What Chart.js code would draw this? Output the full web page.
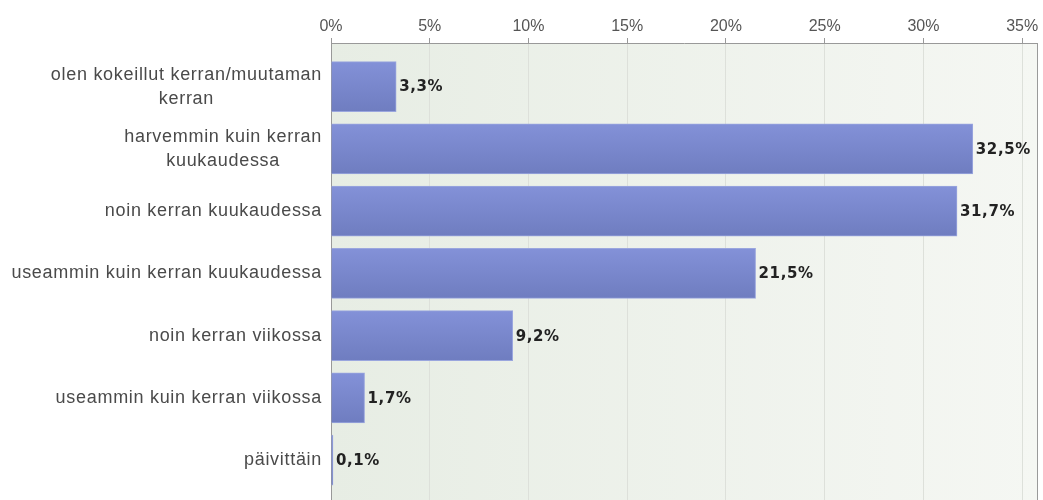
<!DOCTYPE html>
<html>
<head>
<meta charset="utf-8">
<script src="https://cdn.jsdelivr.net/npm/chart.js@4"></script>
<style>
  html, body { margin: 0; padding: 0; background: #fff; }
  #wrap { width: 1043px; height: 500px; position: relative; }
</style>
</head>
<body>
<div id="wrap"><canvas id="c"></canvas></div>
<script>
// categories (top to bottom)
var categories = [
  ['olen kokeillut kerran/muutaman', 'kerran'],
  ['harvemmin kuin kerran', 'kuukaudessa'],
  ['noin kerran kuukaudessa'],
  ['useammin kuin kerran kuukaudessa'],
  ['noin kerran viikossa'],
  ['useammin kuin kerran viikossa'],
  ['päivittäin']
];
// percentages
var values = [3.3, 32.5, 31.7, 21.5, 9.2, 1.7, 0.1];
var xTicks = [0, 5, 10, 15, 20, 25, 30, 35];

var points = values.map(function (v, i) { return { x: v, y: i }; });

// background, right border, category labels, value labels
var decor = {
  id: 'decor',
  beforeDraw: function (chart) {
    var ctx = chart.ctx, a = chart.chartArea;
    var g = ctx.createLinearGradient(a.left, 0, a.right, 0);
    g.addColorStop(0, '#e7ede4');
    g.addColorStop(1, '#f5f7f3');
    ctx.save();
    ctx.fillStyle = g;
    ctx.fillRect(a.left, a.top, a.right - a.left, a.bottom - a.top);
    ctx.restore();
  },
  afterDraw: function (chart) {
    var ctx = chart.ctx, a = chart.chartArea;
    var ys = chart.scales.y, xs = chart.scales.x;
    ctx.save();
    ctx.strokeStyle = '#9a9a9a';
    ctx.lineWidth = 1;
    ctx.beginPath();
    ctx.moveTo(Math.round(a.right) + 0.5, a.top);
    ctx.lineTo(Math.round(a.right) + 0.5, a.bottom);
    ctx.stroke();

    // category labels, block right aligned, lines centered
    ctx.font = '18px "Liberation Sans", Arial, sans-serif';
    ctx.letterSpacing = '0.7px';
    ctx.fillStyle = '#4a4a4a';
    ctx.textBaseline = 'middle';
    ctx.textAlign = 'center';
    var lh = 24;
    categories.forEach(function (lines, i) {
      var w = 0;
      lines.forEach(function (l) { w = Math.max(w, ctx.measureText(l).width); });
      var cx = 322 - w / 2;
      var cy = ys.getPixelForValue(i);
      var y0 = cy - (lines.length - 1) * lh / 2;
      lines.forEach(function (l, k) { ctx.fillText(l, cx, y0 + k * lh); });
    });

    // value labels
    ctx.font = 'bold 15px "DejaVu Sans", Verdana, sans-serif';
    ctx.letterSpacing = '0.6px';
    ctx.fillStyle = '#222';
    ctx.textAlign = 'left';
    values.forEach(function (v, i) {
      var x = xs.getPixelForValue(v) + 3;
      var y = ys.getPixelForValue(i) + 1;
      ctx.fillText(v.toFixed(1).replace('.', ',') + '%', x, y);
    });
    ctx.restore();
  }
};

new Chart(document.getElementById('c'), {
  type: 'bar',
  data: {
    datasets: [{
      data: points,
      backgroundColor: function (ctx) {
        var ch = ctx.chart;
        if (!ch.chartArea || !ch.scales.y || !ctx.raw) return '#7887cc';
        var cy = ch.scales.y.getPixelForValue(ctx.raw.y);
        if (!isFinite(cy)) return '#7887cc';
        var g = ch.ctx.createLinearGradient(0, cy - 25, 0, cy + 25);
        g.addColorStop(0, '#8391d8');
        g.addColorStop(1, '#6f7dc0');
        return g;
      },
      borderColor: '#9aa6de',
      borderWidth: 1,
      borderSkipped: 'left',
      barThickness: 50
    }]
  },
  options: {
    indexAxis: 'y',
    responsive: true,
    maintainAspectRatio: false,
    animation: false,
    layout: { padding: { left: 0, right: 6, top: 0, bottom: 0 } },
    plugins: { legend: { display: false }, tooltip: { enabled: false } },
    scales: {
      x: {
        type: 'linear',
        position: 'top',
        min: 0,
        max: 35.75,
        afterFit: function (s) { s.height = 43; },
        afterBuildTicks: function (s) {
          s.ticks = xTicks.map(function (v) { return { value: v }; });
        },
        ticks: {
          callback: function (v) { return v + '%'; },
          font: { family: '"Liberation Sans", Arial, sans-serif', size: 16 },
          color: '#555',
          padding: 2
        },
        grid: { color: '#dde0da', tickColor: '#999', tickLength: 5 },
        border: { color: '#999' }
      },
      y: {
        type: 'linear',
        reverse: true,
        offset: false,
        min: -0.7,
        max: 6.64,
        afterFit: function (s) { s.width = 331; },
        ticks: { display: false },
        grid: { display: false, drawTicks: false, offset: false },
        border: { color: '#999' }
      }
    }
  },
  plugins: [decor]
});
</script>
</body>
</html>
